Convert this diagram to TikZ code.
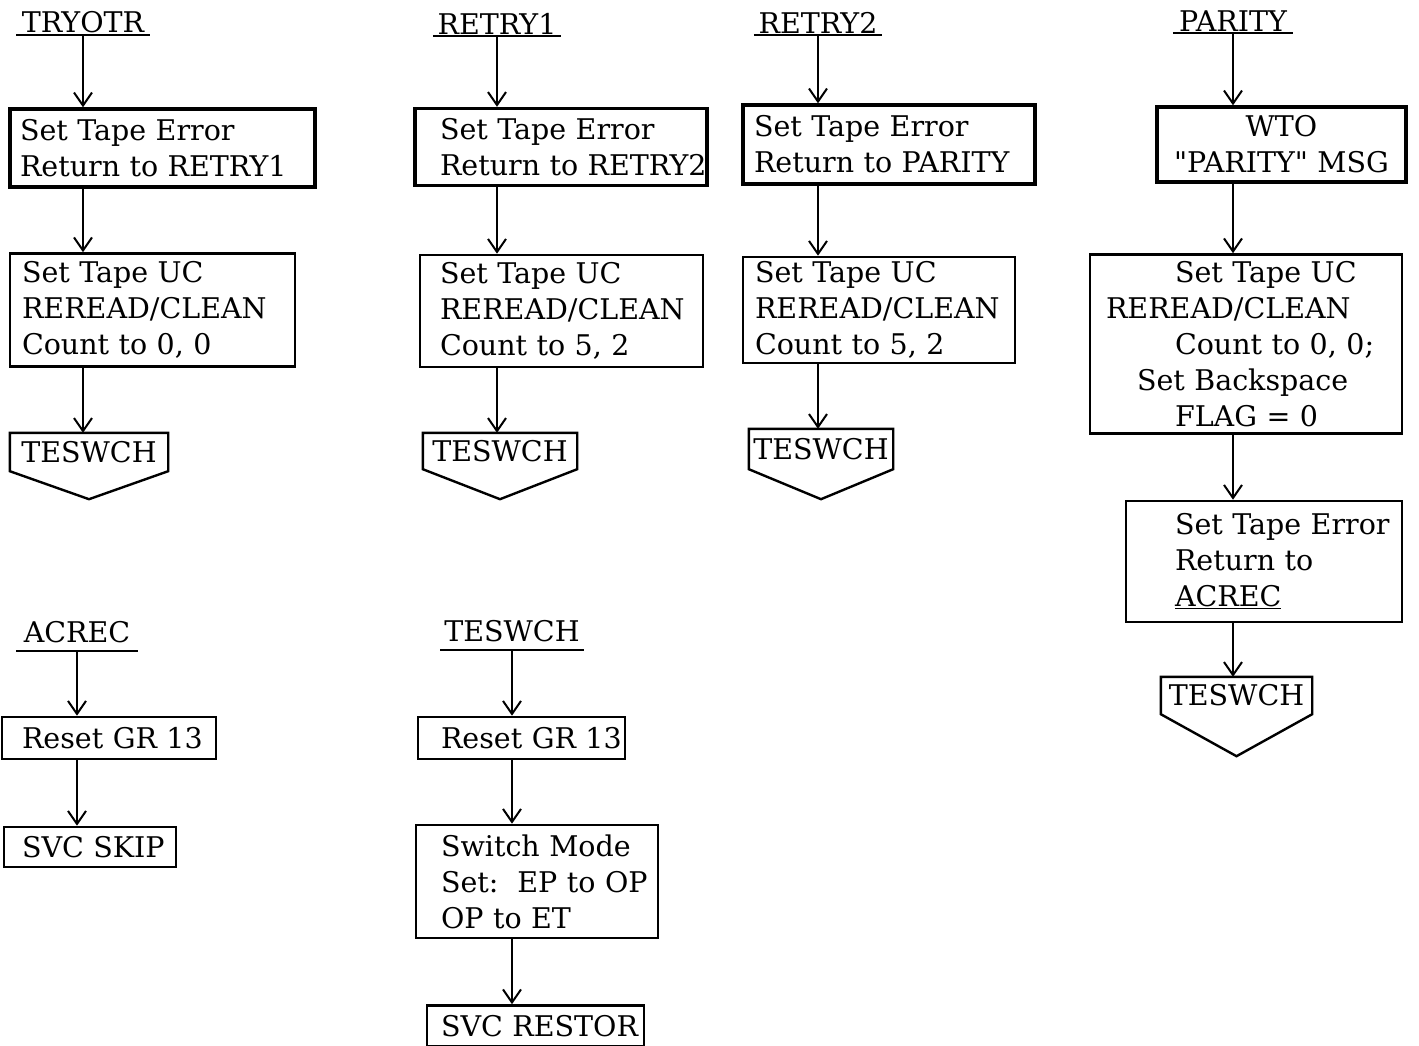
\documentclass[tikz,border=0pt]{standalone}
\usepackage{fontspec}
\setmainfont{DejaVu Serif}[Ligatures=TeXOff]
\usetikzlibrary{arrows.meta}

\begin{document}
\begin{tikzpicture}[x=1pt,y=-1pt,
    every node/.style={font=\fontsize{28.5}{36}\selectfont},
    blk/.style={draw, line width=2.6pt, align=left, inner xsep=0pt, inner ysep=0pt},
    hblk/.style={blk, line width=3.4pt},
    entry/.style={anchor=south, inner xsep=0pt, inner ysep=1.5pt},
    offpg/.style={inner sep=0pt},
    uline/.style={line width=2pt},
    arr/.style={line width=2pt, -{Straight Barb[length=13pt,width=18pt]}}]

    \useasboundingbox (0,0) rectangle (1419,1046);

    % Entry names
    \node[entry, minimum width=133pt] (tryotr) at (83,35) {TRYOTR};
    \node[entry, minimum width=128pt] (retryone) at (497,36) {RETRY1};
    \node[entry, minimum width=128pt] (retrytwo) at (818,35) {RETRY2};
    \node[entry, minimum width=120pt] (parity) at (1233,33) {PARITY};
    \node[entry, inner ysep=8pt, minimum width=121pt] (acrec) at (77,651) {ACREC};
    \node[entry, inner ysep=8pt, minimum width=143pt] (teswch) at (512,650) {TESWCH};

    % Underline entry names
    \draw[uline] (tryotr.south west) -- (tryotr.south east);
    \draw[uline] (retryone.south west) -- (retryone.south east);
    \draw[uline] (retrytwo.south west) -- (retrytwo.south east);
    \draw[uline] (parity.south west) -- (parity.south east);
    \draw[uline] (acrec.south west) -- (acrec.south east);
    \draw[uline] (teswch.south west) -- (teswch.south east);

    % TRYOTR boxes
    \node[hblk, minimum width=305pt, minimum height=78pt, text width=285pt] (b11) at (162.5,148) {Set Tape Error\\Return to RETRY1};
    \node[blk, minimum width=285pt, minimum height=113pt, text width=261pt] (b12) at (152.5,310) {Set Tape UC\\REREAD/CLEAN\\Count to 0, 0};
    \node[offpg, minimum width=158pt, minimum height=38pt] (tes1) at (89,452) {TESWCH};

    % RETRY1 boxes
    \node[hblk, minimum width=292pt, minimum height=77pt, text width=242pt] (b21) at (561,147) {Set Tape Error\\\mbox{Return to RETRY2}};
    \node[blk, minimum width=283pt, minimum height=112pt, text width=243pt] (b22) at (561.5,311) {Set Tape UC\\REREAD/CLEAN\\Count to 5, 2};
    \node[offpg, minimum width=154pt, minimum height=36pt] (tes2) at (500,451) {TESWCH};

    % RETRY2 boxes
    \node[hblk, minimum width=292pt, minimum height=79pt, text width=270pt] (b31) at (889,144.5) {Set Tape Error\\Return to PARITY};
    \node[blk, minimum width=272pt, minimum height=106pt, text width=248pt] (b32) at (879,310) {Set Tape UC\\REREAD/CLEAN\\Count to 5, 2};
    \node[offpg, minimum width=144pt, minimum height=40pt] (tes3) at (821,449) {TESWCH};

    % PARITY boxes
    \node[hblk, align=center, minimum width=249pt, minimum height=75pt, text width=241pt] (b41) at (1281.5,144.5) {WTO\\"PARITY" MSG};
    \node[blk, minimum width=312pt, minimum height=179pt, text width=280pt] (b42) at (1246,344) {\hspace*{69pt}Set Tape UC\\REREAD/CLEAN\\\hspace*{69pt}Count to 0, 0;\\\hspace*{31pt}Set Backspace\\\hspace*{69pt}FLAG = 0};
    \node[blk, minimum width=276pt, minimum height=121pt, text width=178pt] (b43) at (1264,561.5) {\mbox{Set Tape Error}\\Return to\\\underline{ACREC}};
    \node[offpg, minimum width=151pt, minimum height=37pt] (tes4) at (1236.5,695.5) {TESWCH};

    % ACREC boxes
    \node[blk, minimum width=214pt, minimum height=42pt, text width=174pt] (b51) at (109,738) {\mbox{Reset GR 13}};
    \node[blk, minimum width=172pt, minimum height=40pt, text width=136pt] (b52) at (90,847) {\mbox{SVC SKIP}};

    % TESWCH boxes
    \node[blk, minimum width=207pt, minimum height=42pt, text width=161pt] (b61) at (521.5,738) {\mbox{Reset GR 13}};
    \node[blk, minimum width=242pt, minimum height=113pt, text width=192pt] (b62) at (537,881.5) {\mbox{Switch Mode}\\\mbox{Set:\ \ EP to OP}\\OP to ET};
    \node[blk, minimum width=217pt, minimum height=41pt, text width=189pt] (b63) at (535.5,1026) {\mbox{SVC RESTOR}};

    % Off-page connector outlines
    \draw[line width=2.4pt] (tes1.north west) -- (tes1.north east) -- (tes1.south east) -- ([yshift=-28pt]tes1.south) -- (tes1.south west) -- cycle;
    \draw[line width=2.4pt] (tes2.north west) -- (tes2.north east) -- (tes2.south east) -- ([yshift=-30pt]tes2.south) -- (tes2.south west) -- cycle;
    \draw[line width=2.4pt] (tes3.north west) -- (tes3.north east) -- (tes3.south east) -- ([yshift=-30pt]tes3.south) -- (tes3.south west) -- cycle;
    \draw[line width=2.4pt] (tes4.north west) -- (tes4.north east) -- (tes4.south east) -- ([yshift=-42pt]tes4.south) -- (tes4.south west) -- cycle;

    % Arrows (TRYOTR)
    \draw[arr] (tryotr.south) -- (tryotr.south |- b11.north);
    \draw[arr] (tryotr.south |- b11.south) -- (tryotr.south |- b12.north);
    \draw[arr] (tryotr.south |- b12.south) -- (tryotr.south |- tes1.north);

    % Arrows (RETRY1)
    \draw[arr] (retryone.south) -- (retryone.south |- b21.north);
    \draw[arr] (retryone.south |- b21.south) -- (retryone.south |- b22.north);
    \draw[arr] (retryone.south |- b22.south) -- (retryone.south |- tes2.north);

    % Arrows (RETRY2)
    \draw[arr] (retrytwo.south) -- (retrytwo.south |- b31.north);
    \draw[arr] (retrytwo.south |- b31.south) -- (retrytwo.south |- b32.north);
    \draw[arr] (retrytwo.south |- b32.south) -- (retrytwo.south |- tes3.north);

    % Arrows (PARITY)
    \draw[arr] (parity.south) -- (parity.south |- b41.north);
    \draw[arr] (parity.south |- b41.south) -- (parity.south |- b42.north);
    \draw[arr] (parity.south |- b42.south) -- (parity.south |- b43.north);
    \draw[arr] (parity.south |- b43.south) -- (parity.south |- tes4.north);

    % Arrows (ACREC)
    \draw[arr] (acrec.south) -- (acrec.south |- b51.north);
    \draw[arr] (acrec.south |- b51.south) -- (acrec.south |- b52.north);

    % Arrows (TESWCH)
    \draw[arr] (teswch.south) -- (teswch.south |- b61.north);
    \draw[arr] (teswch.south |- b61.south) -- (teswch.south |- b62.north);
    \draw[arr] (teswch.south |- b62.south) -- (teswch.south |- b63.north);
  \end{tikzpicture}
\end{document}
